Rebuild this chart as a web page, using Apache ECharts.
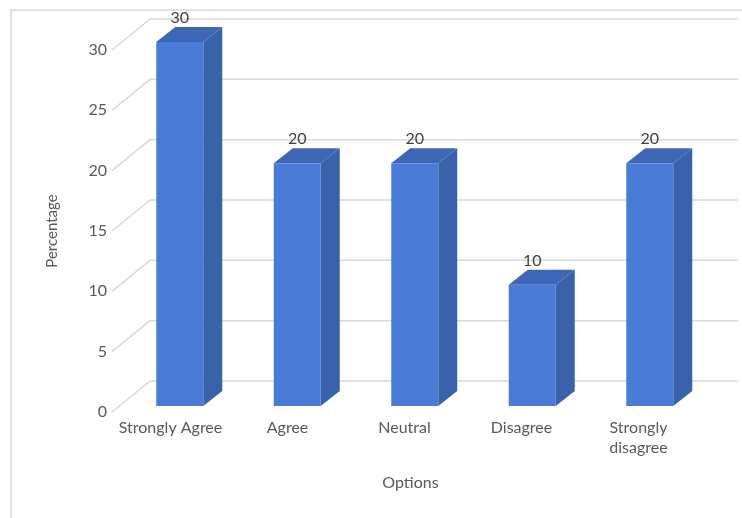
<!DOCTYPE html>
<html>
<head>
<meta charset="utf-8">
<script src="https://cdn.jsdelivr.net/npm/echarts@6/dist/echarts.min.js"></script>
<style>
  html, body { margin: 0; padding: 0; background: #fff; }
  #chart { width: 742px; height: 518px; }
</style>
</head>
<body>
<div id="chart"></div>
<script>
// Survey responses per option (percent)
const categories = ['Strongly Agree', 'Agree', 'Neutral', 'Disagree', 'Strongly\ndisagree'];
const percentages = [30, 20, 20, 10, 20];
const yTicks = [0, 5, 10, 15, 20, 25, 30];

const FONT = 'Lato, "Liberation Sans", sans-serif';
const TEXT = '#595959';
const GRID = '#d9d9d9';

// Depth of the back wall and of each box, in pixels
const WALL_DX = 38, WALL_DY = -31;
const BOX_DX = 19, BOX_DY = -15;

const FRONT = '#4a7bd6';
const SIDE = '#3a62ab';
const TOP = '#3d67b6';

const chart = echarts.init(document.getElementById('chart'), null, { renderer: 'canvas' });

chart.setOption({
  animation: false,
  backgroundColor: '#fff',
  graphic: [{
    type: 'rect',
    shape: { x: 11, y: 10, width: 800, height: 600 },
    style: { fill: 'none', stroke: GRID, lineWidth: 1.5 },
    silent: true, z: -10
  }],
  grid: [
    // plane of the bars' front faces
    { left: 121, right: 33.5, top: 42, bottom: 112 },
    // front plane carrying the axes
    { left: 112, right: 45, top: 50, bottom: 106 }
  ],
  xAxis: [
    { gridIndex: 0, type: 'category', data: categories, show: false },
    {
      gridIndex: 1, type: 'category', data: categories,
      axisLine: { show: false }, axisTick: { show: false },
      axisLabel: { color: TEXT, fontFamily: FONT, fontSize: 16, margin: 6, lineHeight: 20, interval: 0 },
      name: 'Options', nameLocation: 'middle', nameGap: 63,
      nameTextStyle: { color: TEXT, fontFamily: FONT, fontSize: 16, padding: [0, 0, 0, 12] }
    }
  ],
  yAxis: [
    { gridIndex: 0, type: 'value', min: 0, max: 30, show: false },
    {
      gridIndex: 1, type: 'value', min: 0, max: 30, interval: 5,
      axisLine: { show: false }, axisTick: { show: false }, splitLine: { show: false },
      axisLabel: { color: TEXT, fontFamily: FONT, fontSize: 16, margin: 5 },
      name: 'Percentage', nameLocation: 'middle', nameGap: 52, nameRotate: 90,
      nameTextStyle: { color: TEXT, fontFamily: FONT, fontSize: 15 }
    }
  ],
  series: [
    {
      // side wall diagonals and back-wall gridlines
      type: 'custom', xAxisIndex: 1, yAxisIndex: 1, z: 1, silent: true,
      data: yTicks.map(v => [0, v]),
      renderItem: function (params, api) {
        const cs = params.coordSys;
        const y = api.coord([0, api.value(1)])[1];
        const fx = cs.x, bx = cs.x + WALL_DX, by = y + WALL_DY;
        const endX = cs.x + cs.width + 41;
        const style = { stroke: GRID, lineWidth: 1.5, fill: null };
        return {
          type: 'group',
          children: [
            { type: 'line', shape: { x1: fx, y1: y, x2: bx, y2: by }, style: style },
            { type: 'line', shape: { x1: bx, y1: by, x2: endX, y2: by }, style: style }
          ]
        };
      }
    },
    {
      // 3D boxes with value labels
      type: 'custom', xAxisIndex: 0, yAxisIndex: 0, z: 5, silent: true,
      data: percentages.map((v, i) => [i, v]),
      renderItem: function (params, api) {
        const i = api.value(0), v = api.value(1);
        const top = api.coord([i, v]);
        const bottom = api.coord([i, 0]);
        const half = api.size([1, 0])[0] * 0.2;
        const x0 = top[0] - half, x1 = top[0] + half;
        const yT = top[1], yB = bottom[1];
        return {
          type: 'group',
          children: [
            { type: 'polygon', shape: { points: [[x1, yB], [x1, yT], [x1 + BOX_DX, yT + BOX_DY], [x1 + BOX_DX, yB + BOX_DY]] }, style: { fill: SIDE } },
            { type: 'polygon', shape: { points: [[x0, yT], [x1, yT], [x1 + BOX_DX, yT + BOX_DY], [x0 + BOX_DX, yT + BOX_DY]] }, style: { fill: TOP } },
            { type: 'rect', shape: { x: x0, y: yT, width: x1 - x0, height: yB - yT }, style: { fill: FRONT } },
            {
              type: 'text',
              style: {
                x: top[0], y: yT - 24, text: String(v),
                align: 'center', verticalAlign: 'middle',
                fill: '#404040', font: '16px ' + FONT
              }
            }
          ]
        };
      }
    }
  ]
});
</script>
</body>
</html>
